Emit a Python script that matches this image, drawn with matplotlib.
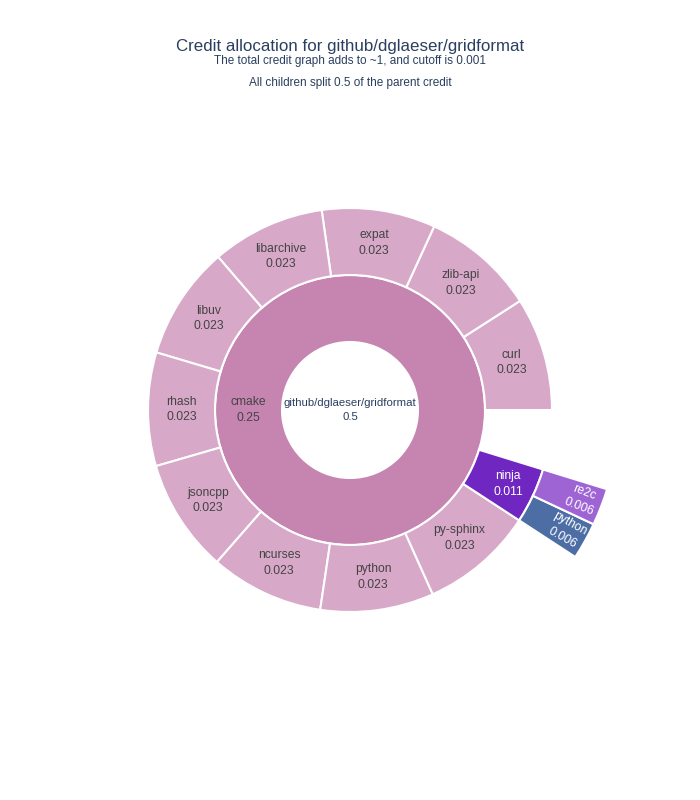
import numpy as np
import matplotlib.pyplot as plt
from matplotlib.patches import Wedge

plt.rcParams['font.family'] = ['Liberation Sans', 'DejaVu Sans']

# data
root_name = 'github/dglaeser/gridformat'
root_value = 0.5
ring1_name = 'cmake'
ring1_value = 0.25

# cmake's children, counterclockwise starting at 3 o'clock
ring2_names = ['curl', 'zlib-api', 'expat', 'libarchive', 'libuv', 'rhash',
               'jsoncpp', 'ncurses', 'python', 'py-sphinx', 'ninja']
ring2_values = [0.0227, 0.0227, 0.0227, 0.0227, 0.0227, 0.0227,
                0.0227, 0.0227, 0.0227, 0.0227, 0.0111]
ring2_colors = ['#d8a8c8'] * 10 + ['#7026c0']

# ninja's children
ring3_names = ['python', 're2c']
ring3_values = [0.00555, 0.00555]
ring3_colors = ['#4c6ea4', '#9e64d4']

##############################################################################

fig = plt.figure(figsize=(7, 8), dpi=100)
ax = fig.add_axes([0, 0, 1, 1])
ax.set_xlim(0, 700)
ax.set_ylim(0, 800)
ax.set_aspect('equal')
ax.axis('off')

cx, cy = 350, 390
r0, r1, r2, r3 = 68, 135, 202, 269
dark = '#444444'
navy = '#2a3f5f'
fs = 8.7

def fmt(val):
    return str(round(val, 3))

def label(x, y, name, val, color, rot=0):
    ax.text(x, y, '%s\n%s' % (name, fmt(val)), ha='center', va='center',
            color=color, fontsize=fs, rotation=rot, rotation_mode='anchor',
            linespacing=1.4)

# ring 1 (full circle)
ax.add_patch(Wedge((cx, cy), r1, 0, 360, width=r1 - r0, facecolor='#c585b0',
                   edgecolor='white', linewidth=1.5))
label(cx - (r0 + r1) / 2, cy, ring1_name, ring1_value, dark)
ax.text(cx, cy, '%s\n%s' % (root_name, root_value), ha='center', va='center',
        color=navy, fontsize=8.2, linespacing=1.45)

# ring 2
scale = 360 / ring1_value
start = 0
ninja_start = 0
for name, val, col in zip(ring2_names, ring2_values, ring2_colors):
    span = val * scale
    ax.add_patch(Wedge((cx, cy), r2, start, start + span, width=r2 - r1,
                       facecolor=col, edgecolor='white', linewidth=1.5))
    mid = np.radians(start + span / 2)
    rm = (r1 + r2) / 2
    tc = 'white' if col != '#d8a8c8' else dark
    if name == 'ninja':
        ninja_start = start
        rm += 6
    label(cx + rm * np.cos(mid), cy + rm * np.sin(mid), name, val, tc)
    start += span

# ring 3
start = ninja_start
for name, val, col in zip(ring3_names, ring3_values, ring3_colors):
    span = val * scale
    ax.add_patch(Wedge((cx, cy), r3, start, start + span, width=r3 - r2,
                       facecolor=col, edgecolor='white', linewidth=1.5))
    mid_deg = start + span / 2
    mid = np.radians(mid_deg)
    rm = 248
    label(cx + rm * np.cos(mid), cy + rm * np.sin(mid), name, val, 'white',
          rot=mid_deg - 360)
    start += span

# titles
ax.text(350, 754, 'Credit allocation for github/dglaeser/gridformat',
        ha='center', va='center', fontsize=12.2, color=navy)
ax.text(350, 739, 'The total credit graph adds to ~1, and cutoff is 0.001',
        ha='center', va='center', fontsize=8.5, color=navy)
ax.text(350, 717, 'All children split 0.5 of the parent credit',
        ha='center', va='center', fontsize=8.5, color=navy)

fig.savefig('out.png', dpi=100, facecolor='white')
